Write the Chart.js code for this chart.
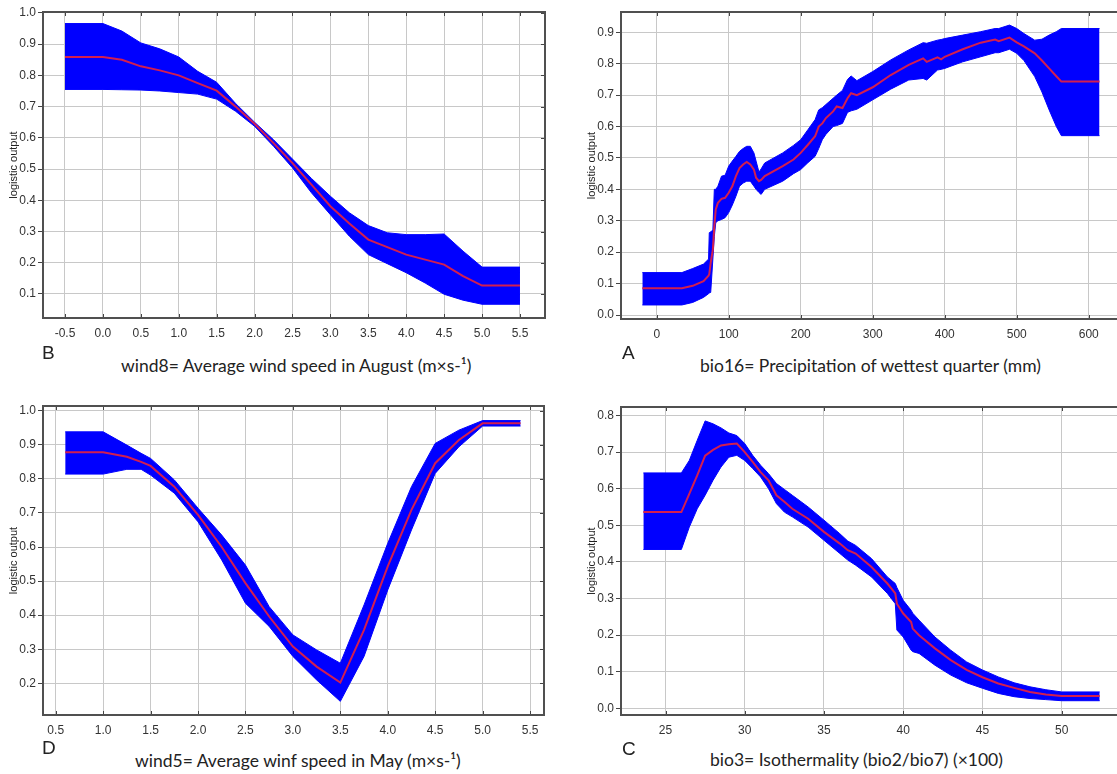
<!DOCTYPE html>
<html>
<head>
<meta charset="utf-8">
<script src="https://cdn.jsdelivr.net/npm/chart.js@4.4.1/dist/chart.umd.min.js"></script>
<style>
  html, body { margin: 0; padding: 0; background: #fff; }
  body { width: 1117px; height: 774px; position: relative; overflow: hidden; }
  .box { position: absolute; }
  .letter { position: absolute; font: 19px "Liberation Sans", Arial, sans-serif; color: #222; line-height: 22px; }
  .cap { position: absolute; font: 17.5px Lato, "Open Sans", sans-serif; color: #222; line-height: 20px; white-space: nowrap; }
</style>
</head>
<body>
<div class="box" style="left:0px;top:0px;width:548px;height:348px"><canvas id="cB"></canvas></div>
<div class="box" style="left:578px;top:0px;width:545px;height:349px"><canvas id="cA"></canvas></div>
<div class="box" style="left:0px;top:394px;width:547px;height:351px"><canvas id="cD"></canvas></div>
<div class="box" style="left:578px;top:394px;width:545px;height:351px"><canvas id="cC"></canvas></div>

<div class="letter" style="left:42px;top:342px">B</div>
<div class="letter" style="left:622px;top:342px">A</div>
<div class="letter" style="left:42px;top:737px">D</div>
<div class="letter" style="left:622px;top:738px">C</div>

<div class="cap" style="left:121px;top:356px">wind8= Average wind speed in August (m×s-¹)</div>
<div class="cap" style="left:700px;top:356px">bio16= Precipitation of wettest quarter (mm)</div>
<div class="cap" style="left:135px;top:751px">wind5= Average winf speed in May (m×s-¹)</div>
<div class="cap" style="left:710px;top:750px">bio3= Isothermality (bio2/bio7) (×100)</div>

<script>
// B: wind8
var bX     = [-0.5, 0, 0.25, 0.5, 0.75, 1.0, 1.25, 1.5, 1.75, 2.0, 2.25, 2.5, 2.75, 3.0, 3.25, 3.5, 3.75, 4.0, 4.25, 4.5, 4.75, 5.0, 5.5];
var bMean  = [0.859, 0.859, 0.85, 0.829, 0.816, 0.80, 0.775, 0.751, 0.70, 0.645, 0.583, 0.519, 0.45, 0.381, 0.326, 0.274, 0.25, 0.226, 0.21, 0.194, 0.157, 0.127, 0.127];
var bUpper = [0.966, 0.966, 0.942, 0.904, 0.885, 0.859, 0.813, 0.778, 0.71, 0.65, 0.594, 0.532, 0.47, 0.413, 0.36, 0.319, 0.296, 0.29, 0.29, 0.292, 0.237, 0.186, 0.186];
var bLower = [0.755, 0.755, 0.754, 0.753, 0.75, 0.745, 0.74, 0.724, 0.685, 0.637, 0.573, 0.504, 0.424, 0.354, 0.285, 0.226, 0.197, 0.168, 0.135, 0.099, 0.08, 0.067, 0.067];
var bXTicks = [-0.5, 0, 0.5, 1.0, 1.5, 2.0, 2.5, 3.0, 3.5, 4.0, 4.5, 5.0, 5.5];
var bYTicks = [0.1, 0.2, 0.3, 0.4, 0.5, 0.6, 0.7, 0.8, 0.9, 1.0];

// A: bio16
var aX     = [-20, 35, 50, 65, 72, 73, 75, 78, 80, 82, 85, 90, 95, 100, 105, 110, 115, 120, 125, 130, 135, 138, 142, 145, 150, 175, 190, 200, 210, 220, 225, 230, 235, 245, 250, 258, 265, 270, 278, 300, 325, 350, 370, 375, 390, 395, 400, 425, 450, 470, 475, 490, 500, 510, 525, 535, 545, 555, 562, 615];
var aMean  = [0.085, 0.085, 0.093, 0.108, 0.125, 0.13, 0.167, 0.209, 0.283, 0.336, 0.357, 0.37, 0.373, 0.389, 0.41, 0.442, 0.468, 0.479, 0.487, 0.479, 0.463, 0.437, 0.426, 0.43, 0.442, 0.474, 0.495, 0.516, 0.542, 0.569, 0.60, 0.61, 0.627, 0.648, 0.664, 0.659, 0.69, 0.706, 0.70, 0.725, 0.764, 0.796, 0.817, 0.806, 0.82, 0.814, 0.822, 0.846, 0.867, 0.877, 0.872, 0.883, 0.868, 0.855, 0.833, 0.81, 0.785, 0.76, 0.743, 0.743];
var aUpper = [0.135, 0.135, 0.148, 0.162, 0.178, 0.262, 0.265, 0.27, 0.40, 0.40, 0.41, 0.442, 0.445, 0.474, 0.49, 0.505, 0.521, 0.53, 0.537, 0.537, 0.516, 0.49, 0.455, 0.465, 0.484, 0.516, 0.54, 0.558, 0.59, 0.622, 0.653, 0.66, 0.67, 0.69, 0.70, 0.715, 0.75, 0.761, 0.746, 0.775, 0.812, 0.844, 0.867, 0.865, 0.875, 0.877, 0.88, 0.891, 0.902, 0.912, 0.912, 0.923, 0.912, 0.896, 0.875, 0.878, 0.891, 0.902, 0.912, 0.912];
var aLower = [0.032, 0.032, 0.040, 0.056, 0.068, 0.07, 0.072, 0.178, 0.25, 0.294, 0.30, 0.304, 0.31, 0.326, 0.35, 0.378, 0.41, 0.42, 0.426, 0.426, 0.41, 0.40, 0.39, 0.384, 0.40, 0.426, 0.45, 0.463, 0.485, 0.505, 0.53, 0.558, 0.575, 0.60, 0.603, 0.61, 0.645, 0.65, 0.655, 0.685, 0.719, 0.748, 0.753, 0.748, 0.78, 0.782, 0.785, 0.806, 0.822, 0.835, 0.835, 0.846, 0.833, 0.81, 0.759, 0.71, 0.653, 0.60, 0.571, 0.571];
var aXTicks = [0, 100, 200, 300, 400, 500, 600];
var aYTicks = [0.0, 0.1, 0.2, 0.3, 0.4, 0.5, 0.6, 0.7, 0.8, 0.9];

// D: wind5
var dX     = [0.6, 1.0, 1.25, 1.4, 1.5, 1.75, 2.0, 2.25, 2.5, 2.75, 3.0, 3.25, 3.5, 3.75, 4.0, 4.25, 4.5, 4.75, 5.0, 5.4];
var dMean  = [0.878, 0.878, 0.865, 0.85, 0.838, 0.777, 0.694, 0.60, 0.494, 0.396, 0.308, 0.249, 0.202, 0.357, 0.543, 0.709, 0.846, 0.914, 0.963, 0.963];
var dUpper = [0.938, 0.938, 0.899, 0.875, 0.86, 0.797, 0.714, 0.635, 0.547, 0.425, 0.342, 0.298, 0.259, 0.43, 0.611, 0.777, 0.904, 0.943, 0.971, 0.971];
var dLower = [0.814, 0.814, 0.828, 0.828, 0.811, 0.758, 0.674, 0.562, 0.435, 0.367, 0.279, 0.21, 0.147, 0.279, 0.474, 0.65, 0.816, 0.894, 0.955, 0.955];
var dXTicks = [0.5, 1.0, 1.5, 2.0, 2.5, 3.0, 3.5, 4.0, 4.5, 5.0, 5.5];
var dYTicks = [0.2, 0.3, 0.4, 0.5, 0.6, 0.7, 0.8, 0.9, 1.0];

// C: bio3
var cX     = [23.6, 26, 26.5, 27, 27.5, 28, 28.5, 29, 29.5, 30, 30.5, 31, 31.5, 32, 32.5, 33, 34, 35, 36, 36.5, 37, 38, 39, 39.5, 39.6, 40, 40.5, 40.6, 41, 42, 43, 44, 45, 46, 47, 48, 49, 50, 52.4];
var cMean  = [0.536, 0.536, 0.586, 0.636, 0.69, 0.706, 0.718, 0.721, 0.723, 0.70, 0.673, 0.645, 0.623, 0.582, 0.564, 0.545, 0.518, 0.482, 0.45, 0.432, 0.423, 0.386, 0.341, 0.314, 0.286, 0.259, 0.236, 0.218, 0.20, 0.164, 0.132, 0.105, 0.085, 0.068, 0.056, 0.045, 0.038, 0.034, 0.034];
var cUpper = [0.643, 0.643, 0.677, 0.732, 0.785, 0.777, 0.766, 0.752, 0.745, 0.723, 0.691, 0.664, 0.641, 0.614, 0.598, 0.582, 0.55, 0.514, 0.477, 0.457, 0.445, 0.409, 0.359, 0.341, 0.33, 0.295, 0.268, 0.26, 0.241, 0.195, 0.159, 0.127, 0.105, 0.086, 0.07, 0.059, 0.051, 0.045, 0.045];
var cLower = [0.434, 0.434, 0.495, 0.545, 0.582, 0.623, 0.659, 0.686, 0.691, 0.677, 0.655, 0.632, 0.60, 0.559, 0.536, 0.523, 0.495, 0.459, 0.423, 0.405, 0.391, 0.359, 0.314, 0.286, 0.214, 0.195, 0.159, 0.155, 0.15, 0.118, 0.091, 0.07, 0.055, 0.041, 0.032, 0.027, 0.024, 0.021, 0.021];
var cXTicks = [25, 30, 35, 40, 45, 50];
var cYTicks = [0.0, 0.1, 0.2, 0.3, 0.4, 0.5, 0.6, 0.7, 0.8];

var FONT = 'Liberation Sans, Arial, sans-serif';

// frame + the little tick marks inside the plot
var framePlugin = {
  id: 'frame',
  afterDraw: function(chart) {
    var ctx = chart.ctx, a = chart.chartArea, x = chart.scales.x, y = chart.scales.y;
    ctx.save();
    ctx.strokeStyle = '#444';
    ctx.lineWidth = 1;
    ctx.beginPath();
    x.ticks.forEach(function(t) {
      var px = Math.round(x.getPixelForValue(t.value)) + 0.5;
      ctx.moveTo(px, a.bottom); ctx.lineTo(px, a.bottom - 4);
      ctx.moveTo(px, a.top); ctx.lineTo(px, a.top + 4);
    });
    y.ticks.forEach(function(t) {
      var py = Math.round(y.getPixelForValue(t.value)) + 0.5;
      ctx.moveTo(a.right, py); ctx.lineTo(a.right - 4, py);
    });
    ctx.stroke();
    ctx.strokeStyle = '#505050';
    ctx.lineWidth = 2;
    ctx.strokeRect(a.left, a.top, a.right - a.left, a.bottom - a.top);
    ctx.restore();
  }
};

function toPts(xs, ys) {
  return xs.map(function(v, i) { return { x: v, y: ys[i] }; });
}

function makeChart(id, xs, mean, upper, lower, xr, yr, xTicks, yTicks, padTop, padRight, xFmt) {
  return new Chart(document.getElementById(id), {
    type: 'line',
    data: {
      // index 0 is drawn last, so the red mean line sits on top of the band
      datasets: [
        { data: toPts(xs, mean), borderColor: 'rgb(210,30,80)', borderWidth: 2, pointRadius: 0, fill: false },
        { data: toPts(xs, upper), borderColor: '#0000ff', backgroundColor: '#0000ff', borderWidth: 1, pointRadius: 0, fill: '+1' },
        { data: toPts(xs, lower), borderColor: '#0000ff', borderWidth: 1, pointRadius: 0, fill: false }
      ]
    },
    options: {
      responsive: true,
      maintainAspectRatio: false,
      animation: false,
      layout: { padding: { top: padTop, right: padRight, left: 0, bottom: 0 } },
      plugins: { legend: { display: false }, tooltip: { enabled: false } },
      scales: {
        x: {
          type: 'linear', min: xr[0], max: xr[1],
          afterBuildTicks: function(s) { s.ticks = xTicks.map(function(v) { return { value: v }; }); },
          afterFit: function(s) { s.height = 30; },
          border: { display: false },
          grid: { color: '#c8c8c8', lineWidth: 1, drawTicks: false },
          ticks: { padding: 8, color: '#333', font: { family: FONT, size: 12 }, maxRotation: 0, autoSkip: false,
                   callback: function(v) { return xFmt(v); } }
        },
        y: {
          type: 'linear', min: yr[0], max: yr[1],
          afterBuildTicks: function(s) { s.ticks = yTicks.map(function(v) { return { value: v }; }); },
          afterFit: function(s) { s.width = 43; },
          border: { display: false },
          grid: { color: '#c8c8c8', lineWidth: 1, drawTicks: true, tickLength: 5, tickColor: '#444' },
          ticks: { padding: 2, color: '#333', font: { family: FONT, size: 12 }, autoSkip: false,
                   callback: function(v) { return v.toFixed(1); } },
          title: { display: true, text: 'logistic output', color: '#222', font: { family: FONT, size: 11 }, padding: { top: 7, bottom: 0 } }
        }
      }
    },
    plugins: [framePlugin]
  });
}

var oneDec = function(v) { return v.toFixed(1); };
var noDec = function(v) { return v.toFixed(0); };

makeChart('cB', bX, bMean, bUpper, bLower, [-0.79, 5.83], [0.023, 1.003], bXTicks, bYTicks, 12, 3, oneDec);
makeChart('cA', aX, aMean, aUpper, aLower, [-49.6, 647.6], [-0.0127, 0.9646], aXTicks, aYTicks, 12, 0, noDec);
makeChart('cD', dX, dMean, dUpper, dLower, [0.366, 5.647], [0.107, 1.0138], dXTicks, dYTicks, 12, 3, oneDec);
makeChart('cC', cX, cMean, cUpper, cLower, [22.19, 53.87], [-0.018, 0.823], cXTicks, cYTicks, 13, 0, noDec);
</script>
</body>
</html>
